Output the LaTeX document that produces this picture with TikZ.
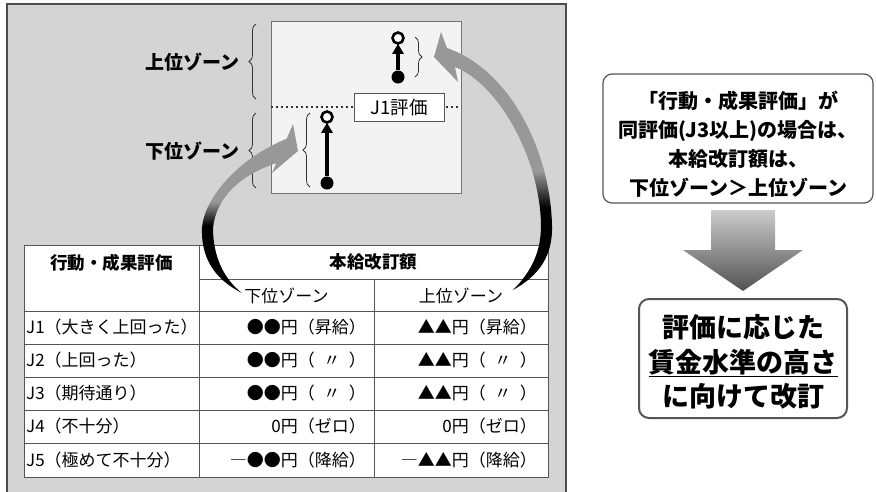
\documentclass[tikz,border=0pt]{standalone}
\usepackage{fontspec}
\setmainfont{Noto Sans CJK JP}
\usetikzlibrary{arrows.meta,decorations.pathreplacing}
\definecolor{panelgray}{RGB}{212,212,212}
\definecolor{innerbg}{RGB}{243,243,243}
\definecolor{arrgray}{RGB}{152,152,152}
\definecolor{linegray}{RGB}{85,85,85}
\pgfdeclareverticalshading{curvshadeA}{100bp}{color(0bp)=(black); color(25bp)=(black); color(45bp)=(black); color(52bp)=(arrgray); color(75bp)=(arrgray); color(100bp)=(arrgray)}
\pgfdeclareverticalshading{curvshadeB}{100bp}{color(0bp)=(black); color(25bp)=(black); color(41bp)=(black); color(48bp)=(arrgray); color(75bp)=(arrgray); color(100bp)=(arrgray)}
\newcommand{\ditto}{（\hspace{0.5em}〃\hspace{0.5em}）}
\tikzset{
  brc/.style={draw=black!80, line width=0.8pt, decorate, decoration={brace, amplitude=7pt}},
  opendot/.style={circle, draw=black, line width=2.6pt, fill=white, minimum size=11pt, inner sep=0pt},
  fulldot/.style={circle, fill=black, minimum size=13pt, inner sep=0pt},
  lolli/.style={line width=4pt, -{Triangle[length=10pt,width=11pt]}, shorten >=-1pt},
  zonelbl/.style={font=\fontsize{19}{22}\selectfont\bfseries, inner sep=0pt},
  cell/.style={font=\fontsize{17}{20}\selectfont, inner sep=0pt},
  hcell/.style={font=\fontsize{17.5}{20}\selectfont\bfseries, inner sep=0pt},
  tline/.style={draw=linegray, line width=1pt},
  rbox/.style={draw=linegray, rounded corners=9pt, fill=white},
}
\begin{document}
\begin{tikzpicture}[x=1pt,y=-1pt]
\useasboundingbox (0,0) rectangle (876,491);
% panel
\draw[fill=panelgray, draw=black!70, line width=1.5pt] (7,4) rectangle (566,495);
% inner box
\draw[fill=innerbg, draw=black!55, line width=1pt] (271,21) rectangle (461,193);
\coordinate (dl) at (271,107);
\coordinate (dr) at (461,107);
\draw[black!80, line width=2.4pt, dash pattern=on 2.4pt off 2.6pt] (dl) -- (dr);
\node[draw=linegray, fill=white, line width=1pt, minimum width=90pt, minimum height=28pt, inner sep=0pt, font=\fontsize{18.5}{20}\selectfont] (j1) at (399,107) {J1評価};
% braces outside
\coordinate (b1a) at (256,99); \coordinate (b1b) at (256,24);
\draw[brc] (b1a) -- (b1b);
\coordinate (b2a) at (256,188); \coordinate (b2b) at (256,113);
\draw[brc] (b2a) -- (b2b);
\node[zonelbl, anchor=east] (uz) at (240,62) {上位ゾーン};
\node[zonelbl, anchor=east] (lz) at (240,151) {下位ゾーン};
% inner braces
\coordinate (b3a) at (310,187); \coordinate (b3b) at (310,113);
\draw[brc] (b3a) -- (b3b);
\coordinate (b4a) at (415,37); \coordinate (b4b) at (415,77);
\draw[brc] (b4a) -- (b4b);
% lollipops
\node[opendot] (o1) at (327,117) {};
\node[fulldot] (f1) at (327,183) {};
\draw[lolli] (f1) -- (o1);
\node[opendot] (o2) at (398,38) {};
\node[fulldot] (f2) at (398,77) {};
\draw[lolli] (f2) -- (o2);
% table
\fill[white] (24,245) rectangle (548,477);
\draw[tline] (24,245) rectangle (548,477);
\draw[tline] (199,245) -- (199,477);
\draw[tline] (374,279) -- (374,477);
\draw[tline] (199,279) -- (548,279);
\foreach \yy in {311,344,377,410,443} \draw[tline] (24,\yy) -- (548,\yy);
\node[hcell] (h1) at (111.5,263) {行動・成果評価};
\node[hcell] (h2) at (373.5,262) {本給改訂額};
\node[cell] (h3) at (286.5,296) {下位ゾーン};
\node[cell] (h4) at (461,296) {上位ゾーン};
\node[cell, anchor=west] (r1) at (26,327.5) {J1（大きく上回った）};
\node[cell, anchor=west] (r2) at (26,360.5) {J2（上回った）};
\node[cell, anchor=west] (r3) at (26,393.5) {J3（期待通り）};
\node[cell, anchor=west] (r4) at (26,426.5) {J4（不十分）};
\node[cell, anchor=west] (r5) at (26,460) {J5（極めて不十分）};
\node[cell, anchor=east] (a1) at (366,327.5) {●●円（昇給）};
\node[cell, anchor=east] (a2) at (366,360.5) {●●円\ditto};
\node[cell, anchor=east] (a3) at (366,393.5) {●●円\ditto};
\node[cell, anchor=east] (a4) at (366,426.5) {0円（ゼロ）};
\node[cell, anchor=east] (a5) at (366,460) {―●●円（降給）};
\node[cell, anchor=east] (c1) at (537,327.5) {▲▲円（昇給）};
\node[cell, anchor=east] (c2) at (537,360.5) {▲▲円\ditto};
\node[cell, anchor=east] (c3) at (537,393.5) {▲▲円\ditto};
\node[cell, anchor=east] (c4) at (537,426.5) {0円（ゼロ）};
\node[cell, anchor=east] (c5) at (537,460) {―▲▲円（降給）};
% curved arrows
\path[shading=curvshadeA] (242,293) .. controls (212,278) and (201,255) .. (202,228)
  .. controls (204,200) and (235,160) .. (286.7,138.7) -- (293,124) -- (298,151) -- (272,173) -- (276.2,163.2)
  .. controls (240,175) and (216,198) .. (213,228)
  .. controls (213,258) and (225,280) .. (242,293) -- cycle;
\path[shading=curvshadeB] (513,290) .. controls (540,275) and (553,255) .. (552,225)
  .. controls (550,150) and (510,70) .. (447,48) -- (441,32) -- (434,57) -- (458,82) -- (455,67)
  .. controls (500,85) and (540,160) .. (541,225)
  .. controls (541,250) and (533,270) .. (513,290) -- cycle;
% right side
\draw[rbox, line width=1.2pt] (603,74) rectangle (873,203);
\node[font=\fontsize{20}{29}\selectfont\bfseries, align=center, inner sep=0pt] (t1) at (738,144.5)
  {「行動・成果評価」が\\同評価(J3以上)の場合は、\\本給改訂額は、\\下位ゾーン＞上位ゾーン};
\path[top color=black!20, bottom color=black!68] (711,210) -- (775,210) -- (775,250) -- (803,250) -- (743,291) -- (683,250) -- (711,250) -- cycle;
\draw[rbox, line width=2pt, rounded corners=10pt] (639,299) rectangle (847,418);
\node[font=\fontsize{27}{34.5}\selectfont\bfseries, align=center, inner sep=0pt] (t2) at (743,362)
  {評価に応じた\\\underline{賃金水準の高さ}\\に向けて改訂};
\end{tikzpicture}
\end{document}
